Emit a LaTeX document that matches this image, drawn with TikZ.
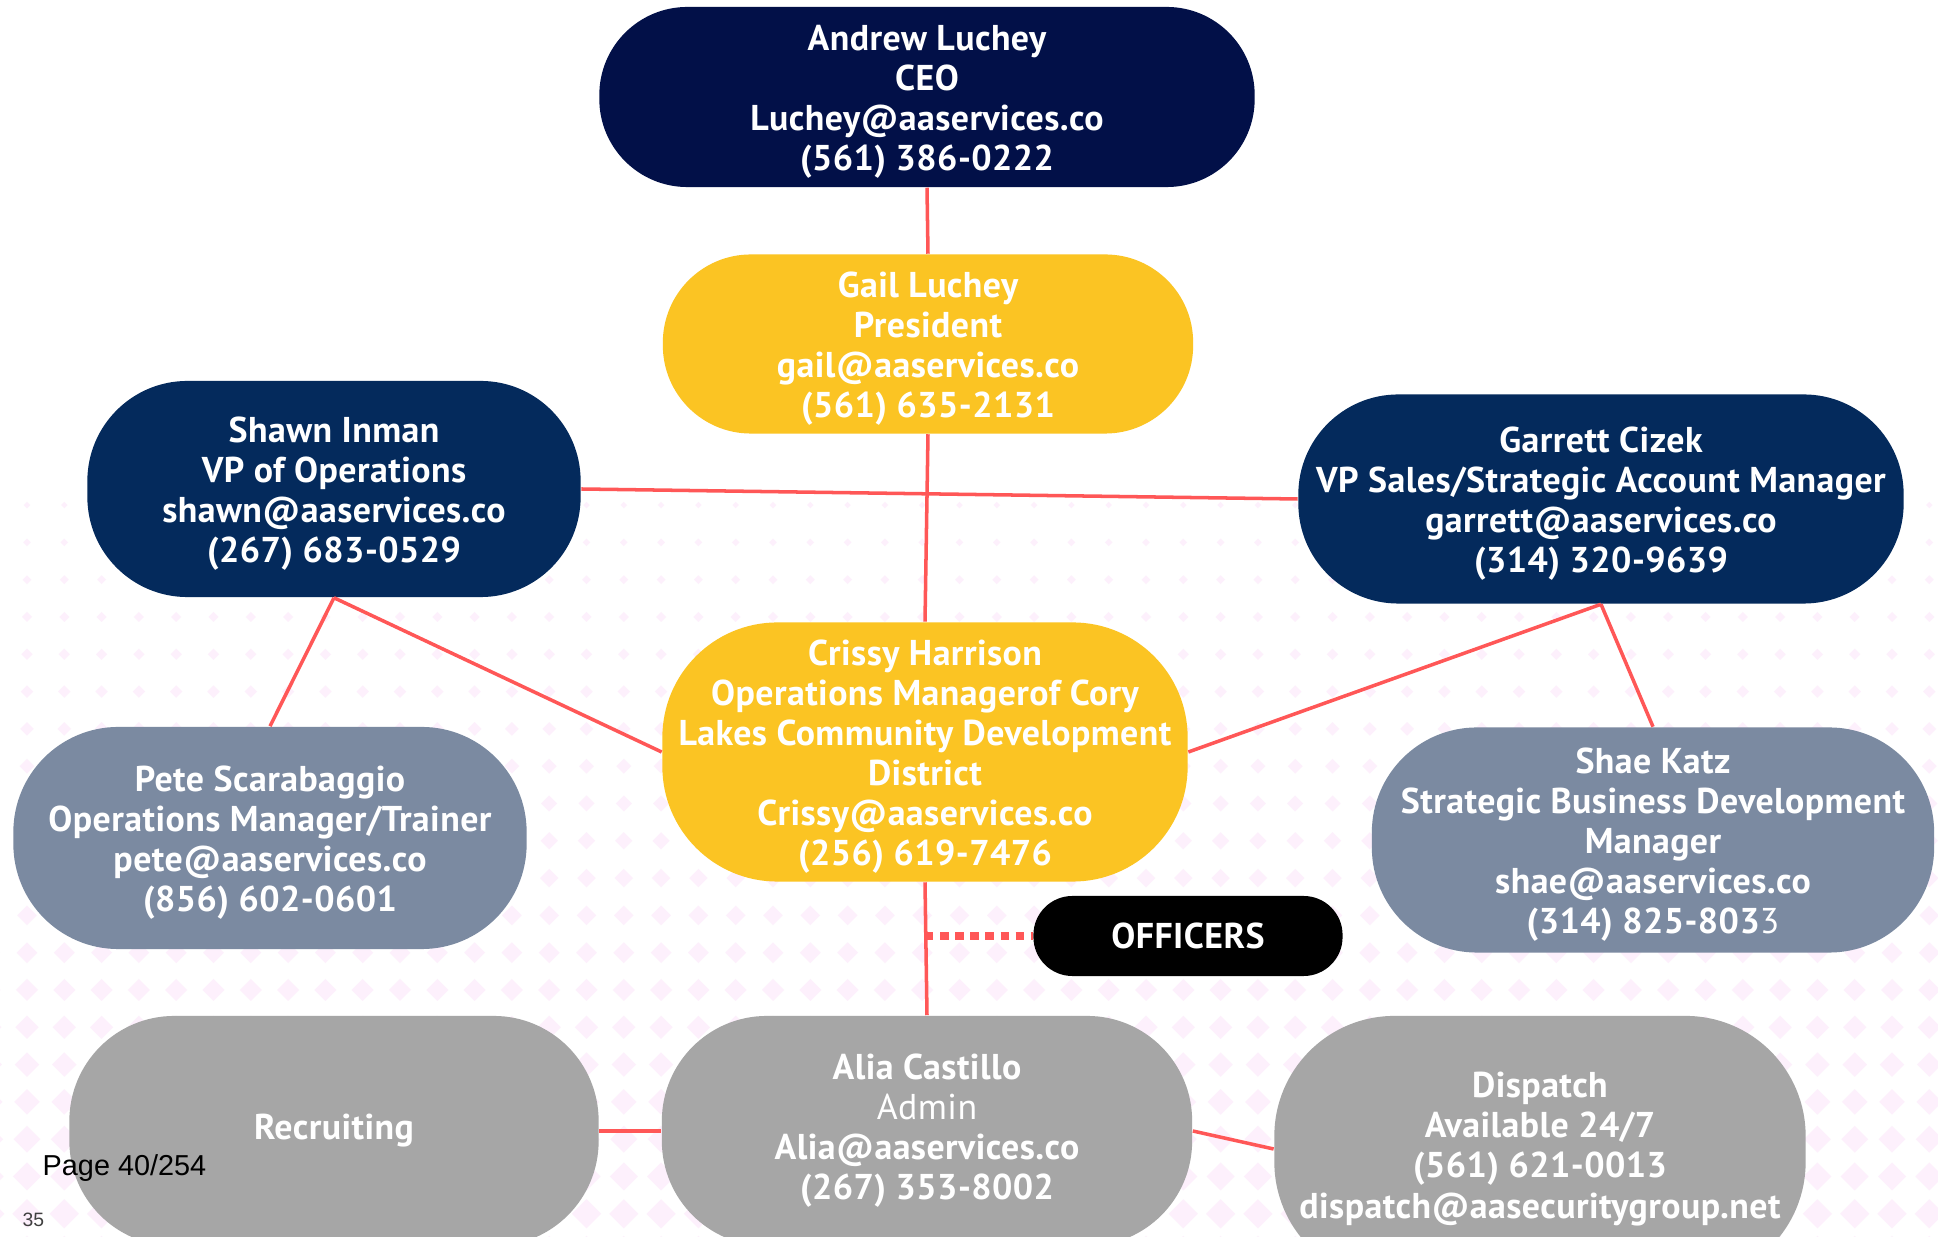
\documentclass[tikz,border=0pt]{standalone}
\usepackage{fontspec}
\setmainfont{PT Sans}
\newfontfamily\pagefont{Liberation Sans}
\usepackage{tikz}

\definecolor{ceonavy}{RGB}{2,16,72}
\definecolor{vpnavy}{RGB}{4,42,92}
\definecolor{gold}{RGB}{251,196,35}
\definecolor{slate}{RGB}{123,138,161}
\definecolor{boxgray}{RGB}{166,166,166}
\definecolor{linkred}{RGB}{255,87,87}
\definecolor{dotpink}{RGB}{253,240,252}

\newcommand{\lowline}{\rule{0pt}{10pt}}

\begin{document}
\begin{tikzpicture}[x=0.01cm, y=-0.01cm,
		pill/.style={rectangle, text=white, align=center, inner sep=0pt, font=\fontsize{10.2}{11.4}\selectfont\bfseries\addfontfeature{LetterSpace=1.2}},
		link/.style={draw=linkred, line width=1pt},
		officerlink/.style={draw=linkred, line width=2.3pt, dash pattern=on 2.4pt off 1.9pt}]
		\useasboundingbox (0,0) rectangle (1938,1237);
		\fill[white] (0,0) rectangle (1938,1237);

		% pink diamonds, growing towards the bottom
		\foreach \j in {-3,...,17}{
			\pgfmathsetmacro\yy{617+37.3*\j}
			\pgfmathsetmacro\hw{5+0.6*\j}
			\foreach \i in {-1,...,52}{
				\pgfmathsetmacro\xx{27+37.3*\i}
				\fill[dotpink] (\xx,\yy-\hw) -- (\xx+\hw,\yy) -- (\xx,\yy+\hw) -- (\xx-\hw,\yy) -- cycle;
			}
		}

		\node[pill, fill=ceonavy, minimum width=6.55cm, minimum height=1.8cm, rounded corners=0.88cm] (ceo) at (927,97) {\lowline Andrew Luchey\\CEO\\Luchey@aaservices.co\\(561) 386-0222};
		\node[pill, fill=gold, minimum width=5.3cm, minimum height=1.79cm, rounded corners=0.88cm] (pres) at (928,344) {\lowline Gail Luchey\\President\\gail@aaservices.co\\(561) 635-2131};
		\node[pill, fill=vpnavy, minimum width=4.93cm, minimum height=2.16cm, rounded corners=1cm] (shawn) at (334,489) {\lowline Shawn Inman\\VP of Operations\\shawn@aaservices.co\\(267) 683-0529};
		\node[pill, fill=vpnavy, minimum width=6.05cm, minimum height=2.09cm, rounded corners=1cm] (garrett) at (1601,499) {\lowline Garrett Cizek\\VP Sales/Strategic Account Manager\\garrett@aaservices.co\\(314) 320-9639};
		\node[pill, fill=gold, minimum width=5.25cm, minimum height=2.59cm, rounded corners=1.15cm] (crissy) at (925,752) {\lowline Crissy Harrison\\Operations Managerof Cory\\Lakes Community Development\\District\\Crissy@aaservices.co\\(256) 619-7476};
		\node[pill, fill=slate, minimum width=5.13cm, minimum height=2.22cm, rounded corners=1.05cm] (pete) at (270,838) {\lowline Pete Scarabaggio\\Operations Manager/Trainer\\pete@aaservices.co\\(856) 602-0601};
		\node[pill, fill=slate, minimum width=5.62cm, minimum height=2.25cm, rounded corners=1.05cm] (shae) at (1653,840) {\lowline Shae Katz\\Strategic Business Development\\Manager\\shae@aaservices.co\\(314) 825-803{\mdseries 3}};
		\node[pill, fill=black, minimum width=3.09cm, minimum height=0.8cm, rounded corners=0.39cm] (officers) at (1188,936) {OFFICERS};
		\node[pill, fill=boxgray, minimum width=5.29cm, minimum height=2.3cm, rounded corners=1.05cm] (recruit) at (334,1131) {Recruiting};
		\node[pill, fill=boxgray, minimum width=5.3cm, minimum height=2.3cm, rounded corners=1.05cm] (alia) at (927,1131) {Alia Castillo\\{\mdseries Admin}\\Alia@aaservices.co\\(267) 353-8002};
		\node[pill, fill=boxgray, minimum width=5.31cm, minimum height=2.66cm, rounded corners=1.2cm] (dispatch) at (1540,1149) {Dispatch\\Available 24/7\\(561) 621-0013\\dispatch@aasecuritygroup.net};

		\draw[link] (ceo.south) -- (pres.north);
		\draw[link] (pres.south) -- (crissy.north);
		\draw[link] (shawn.east) -- (garrett.west);
		\draw[link] (shawn.south) -- (pete.north);
		\draw[link] (shawn.south) -- (crissy.west);
		\draw[link] (garrett.south) -- (crissy.east);
		\draw[link] (garrett.south) -- (shae.north);
		\draw[link] (crissy.south) -- (alia.north);
		\draw[officerlink] (officers.west -| crissy.south) -- (officers.west);
		\draw[link] (recruit.east) -- (alia.west);
		\draw[link] (alia.east) -- (dispatch.west);

		\node[anchor=base west, inner sep=0pt, font=\pagefont\fontsize{8.2}{9.8}\selectfont] (page) at (42,1176) {Page 40/254};
		\node[anchor=base west, inner sep=0pt, text=black!75, font=\pagefont\fontsize{5.5}{6.6}\selectfont] (pagenum) at (22,1227) {35};
\end{tikzpicture}
\end{document}
